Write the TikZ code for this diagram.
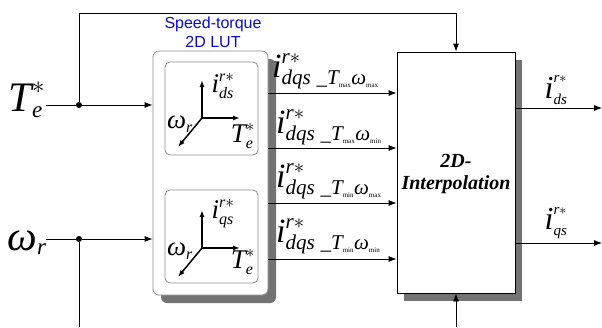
\documentclass[tikz,border=0pt]{standalone}
\usepackage{amsmath}
\usepackage{fontspec}
\setmainfont{Liberation Serif}
\setsansfont{Liberation Sans}
\newfontfamily\itlbl{Liberation Serif Italic}
\usetikzlibrary{arrows.meta,shadows,calc}
\definecolor{luttitle}{HTML}{0A0AD2}
\definecolor{shadowgray}{HTML}{737373}
\definecolor{edgegray}{HTML}{8C8C8C}
\DeclareMathSizes{42}{42}{23}{14}
\DeclareMathSizes{34}{34}{21}{12}
\DeclareMathSizes{32}{32}{15}{10}
\DeclareMathSizes{27}{27}{16}{11}
\newcommand{\tmark}[1]{\hbox{\fontsize{7}{7}\selectfont\rmfamily #1}}
\newcommand{\mi}[1]{\text{\itlbl #1}}
\newcommand{\lutout}[2]{$\mi{i}^{\mi{r}*}_{\mi{dqs}\;\_\mi{T}_{\tmark{#1}}\mi{ω}_{\tmark{#2}}}$}
\tikzset{
  lutbox/.style={
    draw=edgegray,
    rounded corners=6pt,
    fill=white,
    line width=0.8pt,
    drop shadow={shadow xshift=8pt, shadow yshift=-8pt, fill=shadowgray, opacity=1}
  },
  mapbox/.style={
    draw=edgegray,
    rounded corners=5pt,
    fill=white,
    line width=0.8pt
  },
  interpbox/.style={
    draw=black,
    fill=white,
    line width=0.8pt,
    drop shadow={shadow xshift=7pt, shadow yshift=-8pt, fill=shadowgray, opacity=1}
  },
  flow/.style={-{Latex[length=8pt,width=6pt]}, line width=0.8pt},
  wire/.style={line width=0.8pt},
  axis/.style={-{Latex[length=7pt,width=5pt]}, line width=1.5pt},
  junction/.style={circle, fill=black, inner sep=0pt, minimum size=6pt},
  biglabel/.style={font=\fontsize{42}{46}\selectfont, inner sep=0pt},
  sig/.style={font=\fontsize{34}{38}\selectfont, inner sep=0pt},
  outlabel/.style={font=\fontsize{32}{36}\selectfont, inner sep=0pt},
  axlabel/.style={font=\fontsize{27}{30}\selectfont, inner sep=0pt},
  title/.style={font=\fontsize{16}{19}\selectfont\sffamily, text=luttitle, align=center, inner sep=0pt},
  interptext/.style={font=\fontsize{20}{22}\selectfont\bfseries\itshape, align=center, inner sep=0pt}
}

\begin{document}
\begin{tikzpicture}[x=1pt,y=-1pt]
\useasboundingbox (0,0) rectangle (602,327);

% boxes
\node[lutbox, minimum width=115pt, minimum height=244pt] (lut) at (210.5,173) {};
\node[mapbox, minimum width=93pt, minimum height=93pt] (mapd) at (211.5,108.5) {};
\node[mapbox, minimum width=93pt, minimum height=93pt] (mapq) at (211.5,236.5) {};
\node[interpbox, minimum width=118pt, minimum height=241pt] (interp) at (456,172.5) {};
\node[interptext] (interplabel) at (456,174) {2D-\\Interpolation};
\node[title] (luttitle) at (213,32) {Speed-torque\\2D LUT};

% inputs
\node[biglabel] (te) at (27,100) {$\mi{T}_{\mi{e}}^{*}$};
\node[biglabel] (wr) at (27,243) {$\mi{ω}_{\mi{r}}$};
\coordinate (tein) at (46,105);
\coordinate (wrin) at (46,239);
\node[junction] (tedot) at (79,105) {};
\node[junction] (wrdot) at (79,239) {};
\coordinate (top) at (456,13);
\coordinate (wrbot) at (79,327);
\coordinate (ipbot) at (456,327);

\draw[wire] (tein) -- (tedot);
\draw[flow] (tedot) -- (lut.west |- tedot);
\draw[wire] (wrin) -- (wrdot);
\draw[flow] (wrdot) -- (lut.west |- wrdot);
\draw[flow] (tedot) |- (top) -- (interp.north);
\draw[wire] (wrdot) -- (wrbot);
\draw[flow] (ipbot) -- (interp.south);

% axes inside the two tables
\coordinate (od) at (202,118);
\coordinate (oq) at (202,248);
\foreach \o in {od,oq} {
  \draw[axis] (\o) -- ++(0,-38);
  \draw[axis] (\o) -- ++(38,0);
  \draw[axis] (\o) -- ++(-24,29);
}
\node[axlabel] (idax) at (223,86) {$\mi{i}_{\mi{ds}}^{\mi{r}*}$};
\node[axlabel] (wdax) at (180,124) {$\mi{ω}_{\mi{r}}$};
\node[axlabel] (tdax) at (243,136) {$\mi{T}_{\mi{e}}^{*}$};
\node[axlabel] (iqax) at (223,214) {$\mi{i}_{\mi{qs}}^{\mi{r}*}$};
\node[axlabel] (wqax) at (180,251) {$\mi{ω}_{\mi{r}}$};
\node[axlabel] (tqax) at (243,262) {$\mi{T}_{\mi{e}}^{*}$};

% table outputs
\draw[flow] (lut.east |- 0,93) -- (interp.west |- 0,93);
\draw[flow] (lut.east |- 0,148) -- (interp.west |- 0,148);
\draw[flow] (lut.east |- 0,203) -- (interp.west |- 0,203);
\draw[flow] (lut.east |- 0,259) -- (interp.west |- 0,259);
\node[sig, anchor=west] (pmaxmax) at (272,71) {\lutout{max}{max}};
\node[sig, anchor=west] (pmaxmin) at (276,127) {\lutout{max}{min}};
\node[sig, anchor=west] (pminmax) at (276,181) {\lutout{min}{max}};
\node[sig, anchor=west] (pminmin) at (276,236) {\lutout{min}{min}};

% outputs
\coordinate (idsout) at (602,108);
\coordinate (iqsout) at (602,243);
\draw[flow] (interp.east |- idsout) -- (idsout);
\draw[flow] (interp.east |- iqsout) -- (iqsout);
\node[outlabel] (ids) at (556,90) {$\mi{i}_{\mi{ds}}^{\mi{r}*}$};
\node[outlabel] (iqs) at (556,223) {$\mi{i}_{\mi{qs}}^{\mi{r}*}$};

\end{tikzpicture}
\end{document}
